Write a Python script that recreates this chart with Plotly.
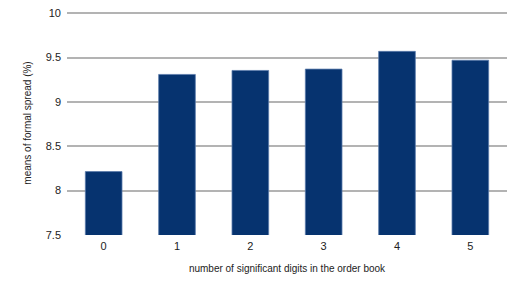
import plotly.graph_objects as go

categories = ["0", "1", "2", "3", "4", "5"]
values = [8.215, 9.31, 9.355, 9.37, 9.57, 9.47]
y_ticks = [7.5, 8, 8.5, 9, 9.5, 10]
y_tick_labels = ["7.5", "8", "8.5", "9", "9.5", "10"]

# the page body has an 8px default margin, so the figure is sized to fit the window
fig = go.Figure(go.Bar(
    x=categories, y=values,
    marker=dict(color="#06336f", line=dict(color="#5b7bab", width=0.8)),
))
fig.update_layout(
    width=509, height=283,
    margin=dict(l=59, r=10, t=3, b=56),
    paper_bgcolor="white", plot_bgcolor="white",
    bargap=0.5,
    showlegend=False,
    font=dict(family="Liberation Sans, Arial, sans-serif", size=11, color="#222"),
)
fig.update_yaxes(
    range=[7.5, 10.025], tickvals=y_ticks, ticktext=y_tick_labels,
    showgrid=True, gridcolor="#b3b3b3", gridwidth=1.5,
    zeroline=False, showline=False,
    ticks="", ticklabelstandoff=5, automargin=False, ticklabeloverflow="allow",
    title=dict(text="means of formal spread (%)", font=dict(size=10), standoff=12),
)
fig.update_xaxes(
    type="category", showgrid=False, showline=False,
    ticks="", ticklabelstandoff=3, automargin=False,
    title=dict(text="number of significant digits in the order book", font=dict(size=10), standoff=13),
)
fig.write_html("out.html")
